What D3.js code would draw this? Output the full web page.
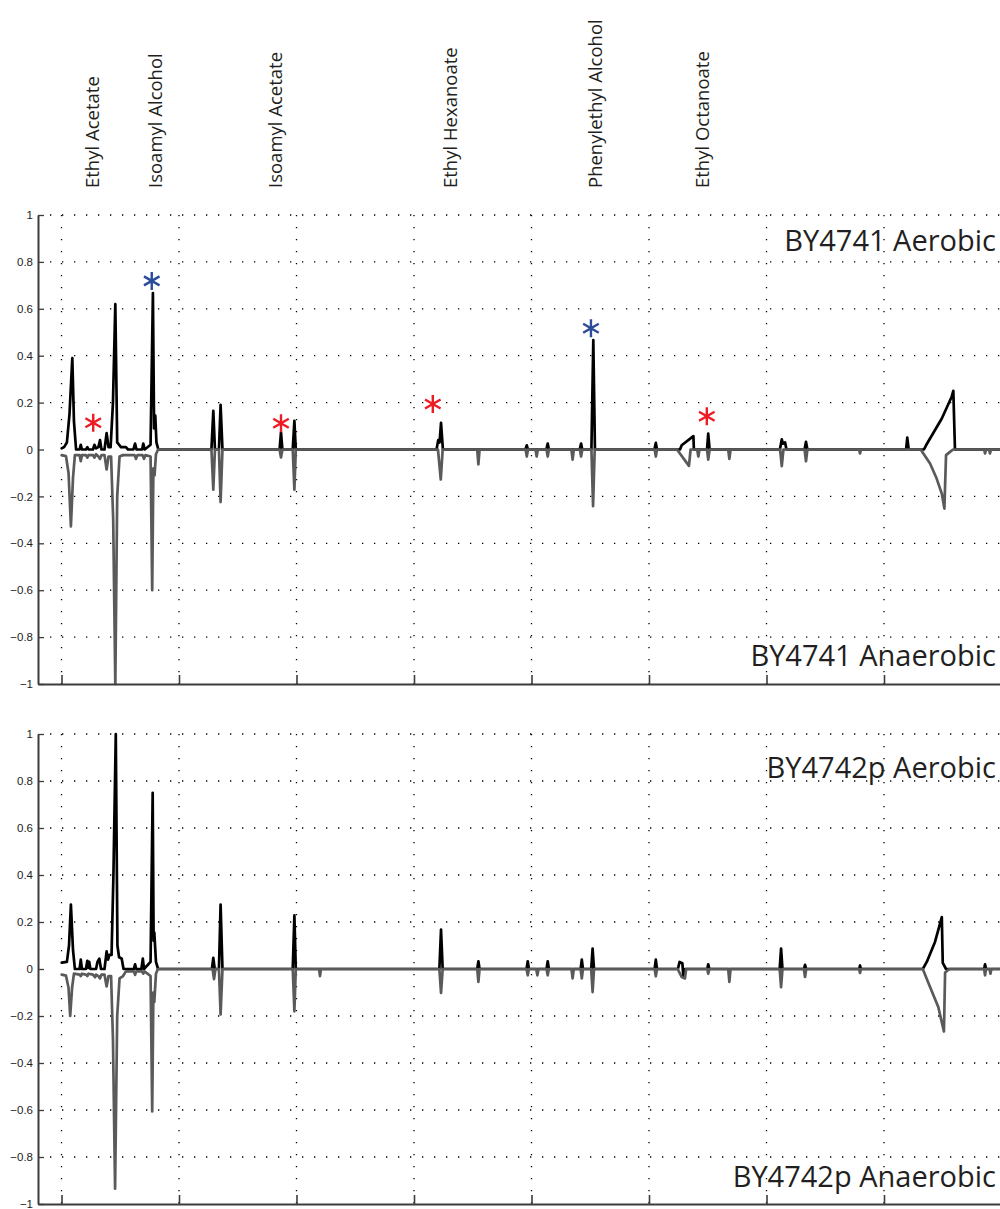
<!DOCTYPE html>
<html><head><meta charset="utf-8">
<script src="https://cdn.jsdelivr.net/npm/d3@7"></script>
<style>body{margin:0;background:#fff}svg{display:block}</style>
</head><body>
<svg id="chart" width="1000" height="1209"></svg>
<script>
// ---------------- DATA ----------------
const compounds = ["Ethyl Acetate","Isoamyl Alcohol","Isoamyl Acetate","Ethyl Hexanoate","Phenylethyl Alcohol","Ethyl Octanoate"];
const compoundTimes = [6.32, 9.02, 14.11, 21.57, 27.74, 32.26];

const panelTitlesTop = ["BY4741 Aerobic","BY4741 Anaerobic"];
const panelTitlesBottom = ["BY4742p Aerobic","BY4742p Anaerobic"];

const yTicks = [-1,-0.8,-0.6,-0.4,-0.2,0,0.2,0.4,0.6,0.8,1];
const yTickLabels = ["\u22121","\u22120.8","\u22120.6","\u22120.4","\u22120.2","0","0.2","0.4","0.6","0.8","1"];
const xTicks = [5,10,15,20,25,30,35,40];

// BY4741 aerobic (black, positive)
const by4741Aerobic = [
[5.01,0.005],[5.11,0.01],[5.23,0.03],[5.34,0.15],[5.46,0.39],[5.53,0.12],[5.62,0.0],
[5.77,0.0],[5.82,0.02],[5.87,0.0],[6.04,0.0],[6.10,0.01],[6.15,0.0],[6.34,0.0],[6.40,0.02],[6.47,0.005],
[6.57,0.01],[6.64,0.04],[6.70,0.0],[6.83,0.0],[6.92,0.07],[7.00,0.01],[7.09,0.01],[7.19,0.2],[7.29,0.62],
[7.37,0.03],[7.53,0.01],[7.74,0.01],[7.83,0.0],[8.06,0.0],[8.13,0.025],[8.19,0.0],[8.43,0.0],[8.48,0.025],
[8.54,0.0],[8.79,0.02],[8.89,0.667],[8.94,0.09],[8.99,0.145],[9.04,0.03],[9.12,0.0],
[11.38,0],[11.46,0.165],[11.53,0],[11.70,0],[11.77,0.19],[11.85,0],
[14.28,0],[14.34,0.073],[14.40,0],[14.84,0],[14.91,0.122],[14.97,0],
[20.96,0],[21.03,0.04],[21.09,0.03],[21.15,0.114],[21.23,0],
[24.74,0],[24.80,0.018],[24.85,0],[25.63,0],[25.69,0.025],[25.74,0],
[27.05,0],[27.11,0.025],[27.16,0],[27.55,0],[27.63,0.467],[27.70,0],
[30.23,0],[30.29,0.028],[30.34,0],
[31.32,0],[31.39,0.018],[31.89,0.057],[31.91,0],
[32.47,0],[32.52,0.068],[32.58,0],
[35.57,0],[35.65,0.043],[35.70,0.025],[35.79,0.03],[35.85,0],
[36.62,0],[36.68,0.033],[36.74,0],
[40.94,0],[40.99,0.051],[41.05,0],
[41.70,0],[41.79,0.018],[42.46,0.132],[42.88,0.225],[42.95,0.25],[43.02,0],
[45,0]
];

// BY4741 anaerobic (grey, plotted negative)
const by4741Anaerobic = [
[5.01,-0.024],[5.19,-0.028],[5.30,-0.1],[5.40,-0.328],[5.49,-0.12],[5.57,-0.024],
[5.77,-0.024],[5.82,-0.05],[5.87,-0.024],[6.04,-0.024],[6.10,-0.035],[6.15,-0.024],
[6.34,-0.024],[6.40,-0.035],[6.47,-0.02],[6.57,-0.03],[6.64,-0.04],[6.70,-0.024],
[6.83,-0.024],[6.92,-0.085],[7.00,-0.03],[7.11,-0.03],[7.20,-0.3],[7.29,-1.0],[7.37,-0.2],[7.47,-0.03],
[7.62,-0.024],[8.11,-0.024],[8.17,-0.04],[8.23,-0.024],[8.45,-0.024],[8.51,-0.04],[8.57,-0.024],
[8.79,-0.03],[8.86,-0.6],[8.91,-0.08],[8.96,-0.11],[9.02,-0.02],[9.11,0],
[11.38,0],[11.46,-0.171],[11.53,0],[11.70,0],[11.77,-0.224],[11.85,0],
[14.28,0],[14.34,-0.034],[14.40,0],[14.84,0],[14.91,-0.171],[14.97,0],
[21.02,0],[21.14,-0.128],[21.22,0],[22.69,0],[22.74,-0.063],[22.79,0],
[24.75,0],[24.80,-0.03],[24.85,0],[25.17,0],[25.22,-0.03],[25.27,0],[25.64,0],[25.69,-0.03],[25.74,0],
[26.70,0],[26.75,-0.043],[26.80,0],[27.06,0],[27.11,-0.03],[27.16,0],[27.55,0],[27.62,-0.242],[27.69,0],
[30.24,0],[30.29,-0.03],[30.34,0],
[31.19,0],[31.70,-0.07],[31.77,0],[32.05,0],[32.10,-0.03],[32.15,0],
[32.47,0],[32.52,-0.043],[32.58,0],[33.37,0],[33.42,-0.04],[33.47,0],
[35.58,0],[35.65,-0.071],[35.72,0],[36.62,0],[36.68,-0.05],[36.74,0],
[38.94,0],[38.98,-0.017],[39.02,0],
[41.56,0],[41.96,-0.06],[42.24,-0.124],[42.46,-0.188],[42.57,-0.252],[42.64,-0.024],[42.81,-0.01],[42.94,0],
[44.26,0],[44.30,-0.017],[44.34,0],[44.47,0],[44.51,-0.017],[44.55,0],
[45,0]
];

// BY4742p aerobic (black, positive)
const by4742pAerobic = [
[5.01,0.027],[5.23,0.03],[5.32,0.1],[5.40,0.274],[5.49,0.08],[5.57,0.0],
[5.77,0],[5.82,0.04],[5.87,0],[6.04,0],[6.10,0.035],[6.14,0.005],[6.18,0.03],[6.23,0],
[6.47,0],[6.53,0.03],[6.61,0.044],[6.68,0],
[6.83,0],[6.92,0.075],[6.98,0.04],[7.04,0.06],[7.13,0.06],[7.21,0.4],[7.31,1.0],[7.38,0.1],[7.45,0.05],[7.56,0.045],[7.64,0],
[8.08,0],[8.13,0.02],[8.18,0],[8.40,0],[8.46,0.044],[8.51,0],
[8.79,0.03],[8.88,0.75],[8.92,0.12],[8.95,0.155],[9.02,0.03],[9.11,0],
[11.40,0],[11.46,0.047],[11.52,0],[11.70,0],[11.77,0.274],[11.85,0],
[14.84,0],[14.91,0.228],[14.97,0],
[21.08,0],[21.15,0.168],[21.22,0],[22.69,0],[22.74,0.033],[22.79,0],
[24.79,0],[24.84,0.033],[24.89,0],[25.64,0],[25.69,0.033],[25.74,0],
[27.09,0],[27.14,0.04],[27.19,0],[27.54,0],[27.60,0.087],[27.66,0],
[30.24,0],[30.29,0.04],[30.34,0],
[31.23,0],[31.30,0.03],[31.42,0.025],[31.46,-0.03],[31.52,0],
[32.48,0],[32.52,0.02],[32.57,0],
[35.56,0],[35.62,0.087],[35.68,0],[36.59,0],[36.64,0.018],[36.69,0],
[38.94,0],[38.98,0.015],[39.02,0],
[41.65,0],[41.82,0.03],[42.17,0.115],[42.46,0.221],[42.50,0.026],[42.64,0],
[44.26,0],[44.30,0.02],[44.34,0],
[45,0]
];

// BY4742p anaerobic (grey, plotted negative)
const by4742pAnaerobic = [
[5.01,-0.024],[5.19,-0.028],[5.30,-0.08],[5.37,-0.2],[5.45,-0.08],[5.53,-0.02],
[5.77,-0.024],[5.82,-0.03],[5.87,-0.02],[6.04,-0.024],[6.10,-0.03],[6.15,-0.02],
[6.34,-0.024],[6.43,-0.035],[6.47,-0.024],[6.57,-0.03],[6.64,-0.04],[6.70,-0.024],
[6.83,-0.024],[6.92,-0.074],[7.00,-0.03],[7.11,-0.03],[7.19,-0.3],[7.28,-0.935],[7.37,-0.2],[7.47,-0.04],
[7.62,-0.03],[7.74,-0.01],[8.08,-0.01],[8.13,-0.025],[8.18,-0.01],[8.43,-0.01],[8.48,-0.02],[8.53,-0.01],
[8.79,-0.03],[8.86,-0.606],[8.91,-0.1],[8.95,-0.14],[9.02,-0.02],[9.10,0],
[11.43,0],[11.49,-0.043],[11.55,0],[11.70,0],[11.77,-0.193],[11.85,0],
[14.84,0],[14.91,-0.18],[14.97,0],[15.96,0],[16.00,-0.03],[16.04,0],
[21.08,0],[21.15,-0.102],[21.22,0],[22.69,0],[22.74,-0.055],[22.79,0],
[24.79,0],[24.84,-0.027],[24.89,0],[25.20,0],[25.25,-0.027],[25.30,0],[25.64,0],[25.69,-0.027],[25.74,0],
[26.70,0],[26.75,-0.04],[26.80,0],[27.09,0],[27.14,-0.04],[27.19,0],[27.54,0],[27.60,-0.098],[27.66,0],
[30.24,0],[30.29,-0.031],[30.34,0],
[31.22,0],[31.39,-0.034],[31.53,-0.04],[31.58,0],
[32.48,0],[32.52,-0.02],[32.57,0],[33.37,0],[33.42,-0.055],[33.47,0],
[35.56,0],[35.62,-0.077],[35.68,0],[36.59,0],[36.64,-0.034],[36.69,0],
[38.94,0],[38.98,-0.017],[39.02,0],
[41.65,0],[41.96,-0.077],[42.31,-0.162],[42.55,-0.266],[42.60,-0.015],[42.72,-0.005],[42.80,0],
[44.26,0],[44.30,-0.027],[44.34,0],[44.49,0],[44.53,-0.02],[44.57,0],
[45,0]
];

// significance markers (panel 1): [time, value]
const redMarks = [[6.35,0.114],[14.34,0.112],[20.80,0.194],[32.46,0.142]];
const blueMarks = [[8.84,0.719],[27.53,0.517]];

// ---------------- DRAW ----------------
const svg = d3.select("#chart");
const x = d3.scaleLinear().domain([4,45]).range([38,1001.5]);
const panels = [
  {y: d3.scaleLinear().domain([-1,1]).range([684,215]), pos: by4741Aerobic, neg: by4741Anaerobic,
   titles: panelTitlesTop, titleY: [251, 666]},
  {y: d3.scaleLinear().domain([-1,1]).range([1204,734]), pos: by4742pAerobic, neg: by4742pAnaerobic,
   titles: panelTitlesBottom, titleY: [778, 1187]}
];
const textColor = "#231f20";
const axisColor = "#3c3c3c";

panels.forEach((p, i) => {
  const g = svg.append("g");
  const y = p.y;
  // grid
  const grid = g.append("g").attr("stroke","#000").attr("stroke-width",1.3).attr("stroke-dasharray","1.3,10.7");
  yTicks.filter(v => v > -1 && v !== 0).forEach(v => {
    grid.append("line").attr("x1",x(4)+12).attr("x2",1000).attr("y1",y(v)).attr("y2",y(v));
  });
  xTicks.forEach(v => {
    grid.append("line").attr("x1",x(v)).attr("x2",x(v)).attr("y1",y(1)).attr("y2",y(-1));
  });

  // lines
  const line = d3.line().x(d => x(d[0])).y(d => y(d[1]));
  g.append("path").datum(p.pos).attr("d",line).attr("fill","none").attr("stroke","#000")
    .attr("stroke-width",2.7).attr("stroke-linejoin","round").attr("stroke-linecap","round");
  g.append("path").datum(p.neg).attr("d",line).attr("fill","none").attr("stroke","#5a5a5a")
    .attr("stroke-width",2.7).attr("stroke-linejoin","round").attr("stroke-linecap","round");

  // axes
  const ax = g.append("g").attr("transform",`translate(${x(4)},0)`)
    .call(d3.axisLeft(y).tickValues(yTicks).tickFormat((d,k) => yTickLabels[k])
      .tickSizeInner(-6).tickSizeOuter(0).tickPadding(5));
  ax.select(".domain").attr("stroke",axisColor).attr("stroke-width",2);
  ax.selectAll(".tick line").attr("stroke",axisColor).attr("stroke-width",1.3);
  ax.selectAll(".tick text").attr("fill","#222").style("font-family","'Liberation Sans', Arial, sans-serif").style("font-size","11.5px");

  const bx = g.append("g").attr("transform",`translate(0,${y(-1)})`)
    .call(d3.axisBottom(x).tickValues(xTicks).tickFormat("").tickSizeInner(-9).tickSizeOuter(0));
  bx.select(".domain").attr("stroke",axisColor).attr("stroke-width",2);
  bx.selectAll(".tick line").attr("stroke",axisColor).attr("stroke-width",1.6);

  // titles
  p.titles.forEach((t, k) => {
    g.append("text").attr("x",996).attr("y",p.titleY[k]).attr("text-anchor","end")
      .attr("fill",textColor).style("font-family","'Open Sans', sans-serif").style("font-size","29px").text(t);
  });

  if (i === 0) {
    const star = d3.symbol().type(d3.symbolAsterisk).size(228);
    g.selectAll(".red").data(redMarks).join("path").attr("d",star)
      .attr("transform",d => `translate(${x(d[0])},${y(d[1])})`)
      .attr("fill","none").attr("stroke","#ed1c24").attr("stroke-width",2.4);
    g.selectAll(".blue").data(blueMarks).join("path").attr("d",star)
      .attr("transform",d => `translate(${x(d[0])},${y(d[1])})`)
      .attr("fill","none").attr("stroke","#2b4c9b").attr("stroke-width",2.4);
  }
});

// compound labels (vertical)
svg.append("g").selectAll("text").data(compounds).join("text")
  .attr("transform",(d,k) => `translate(${x(compoundTimes[k])},188) rotate(-90)`)
  .attr("dy","0.35em").attr("text-anchor","start")
  .attr("fill",textColor).style("font-family","'Open Sans', sans-serif").style("font-size","18.5px")
  .text(d => d);
</script>
</body></html>
